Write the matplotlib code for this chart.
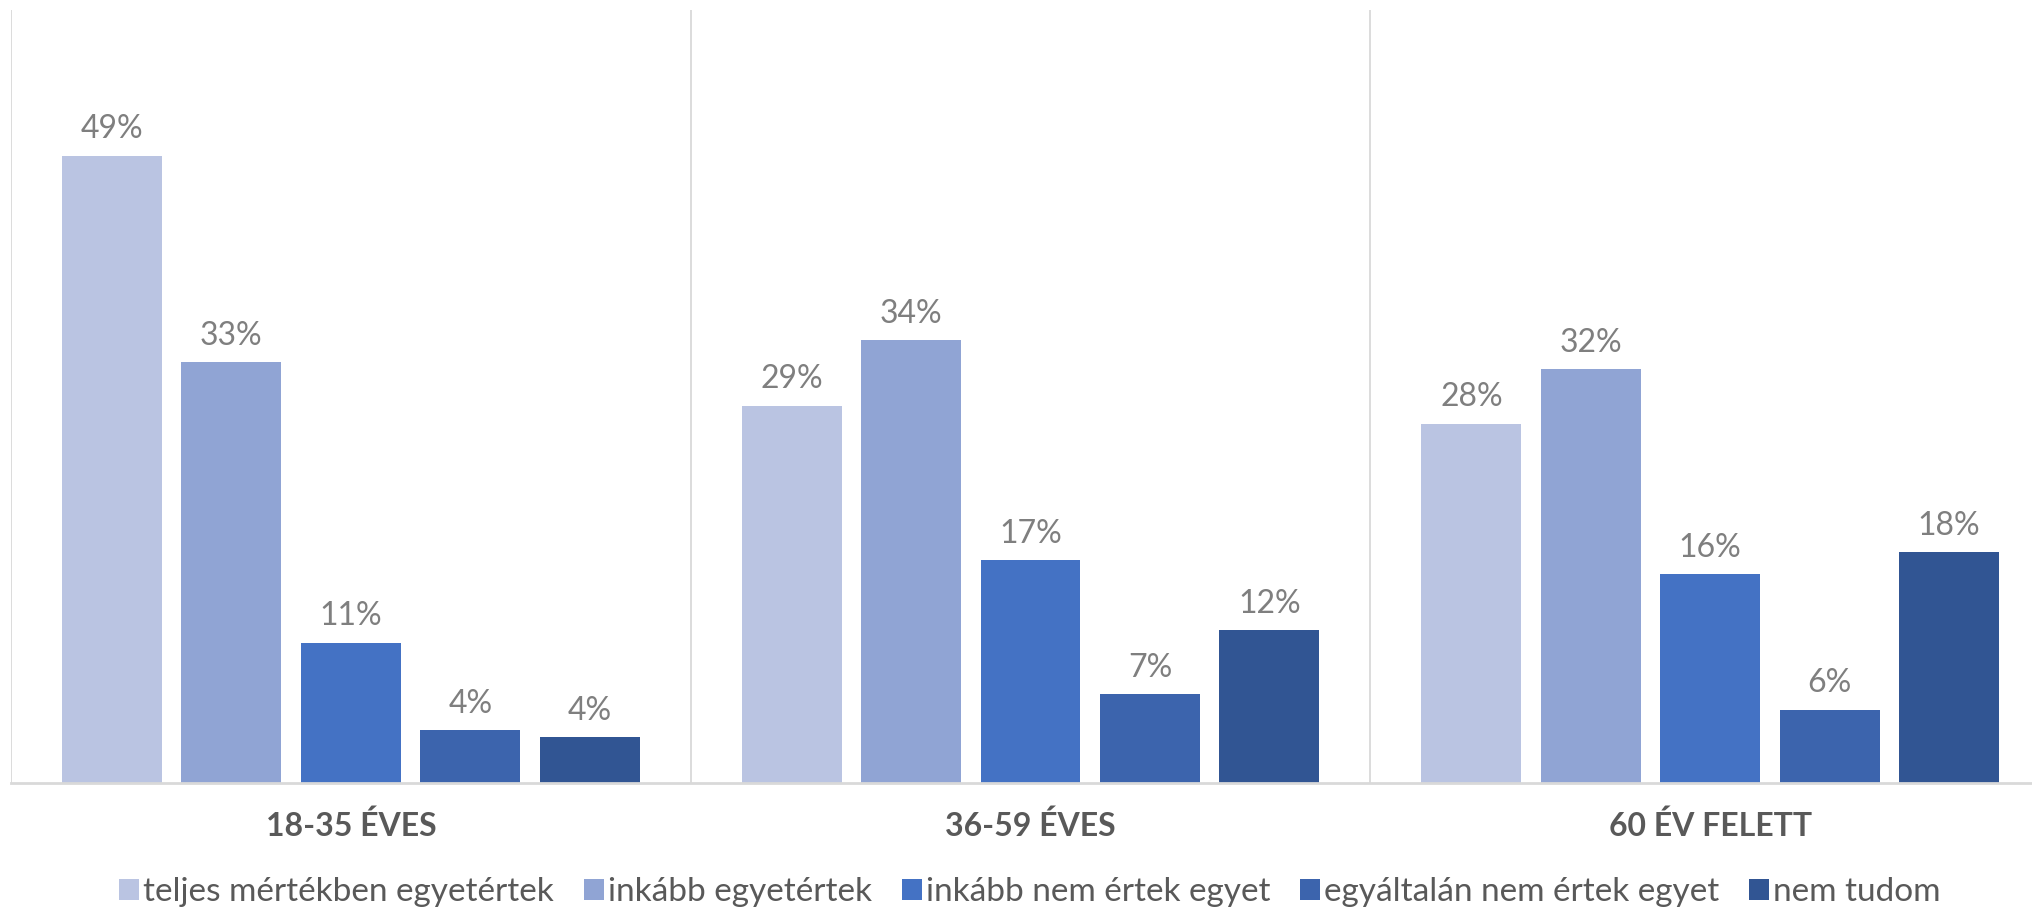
import matplotlib
matplotlib.use("Agg")
import matplotlib.pyplot as plt
import numpy as np

plt.rcParams['font.family'] = ['Lato', 'DejaVu Sans']

categories = ["18-35 ÉVES", "36-59 ÉVES", "60 ÉV FELETT"]
series_names = ["teljes mértékben egyetértek", "inkább egyetértek",
                "inkább nem értek egyet", "egyáltalán nem értek egyet", "nem tudom"]
teljes = [0.487, 0.293, 0.279]
inkabb = [0.327, 0.344, 0.321]
inkabb_nem = [0.109, 0.173, 0.162]
egyaltalan_nem = [0.041, 0.069, 0.057]
nem_tudom = [0.036, 0.119, 0.179]
series_values = [teljes, inkabb, inkabb_nem, egyaltalan_nem, nem_tudom]
colors = ["#BAC4E2", "#90A4D4", "#4472C4", "#3C64AD", "#315593"]

W, H = 2033, 910
fig = plt.figure(figsize=(W / 100, H / 100), dpi=100)
left_px, right_px, top_px, bottom_px = 11, 2050, 10, 783
ax = fig.add_axes([left_px / W, 1 - bottom_px / H,
                   (right_px - left_px) / W, (bottom_px - top_px) / H])

pitch = 0.1757
bw = 0.147
x = np.arange(len(categories))
for i, (name, vals, c) in enumerate(zip(series_names, series_values, colors)):
    xs = x + (i - 2) * pitch
    ax.bar(xs, vals, width=bw, color=c, label=name, zorder=2)
    for xi, v in zip(xs, vals):
        ax.annotate(f"{round(v * 100):.0f}%", xy=(xi, v), xytext=(0, 8),
                    textcoords="offset points", ha="center", va="bottom",
                    fontsize=23, color="#7F7F7F")

ax.set_xlim(-0.5, 2.5)
ax.set_ylim(0, 0.60)
for s in ["top", "right", "left"]:
    ax.spines[s].set_visible(False)
ax.spines["bottom"].set_color("#D9D9D9")
ax.spines["bottom"].set_linewidth(2)
ax.set_yticks([])
for xv in [-0.5, 0.5, 1.5, 2.5]:
    ax.axvline(xv, color="#D9D9D9", lw=1.3, zorder=1)

ax.set_xticks([])
for xi, cat in zip(x, categories):
    ax.annotate(cat, xy=(xi, 0), xytext=(0, -31), textcoords="offset points",
                ha="center", va="center", fontsize=23, fontweight="bold",
                color="#595959")

leg = fig.legend(loc="center", bbox_to_anchor=(1030 / W, 1 - 892 / H), ncol=5,
                 frameon=False, fontsize=24, handlelength=0.6, handleheight=0.6,
                 handletextpad=0.12, columnspacing=0.9, labelcolor="#595959")

fig.savefig("out.png", dpi=100)
